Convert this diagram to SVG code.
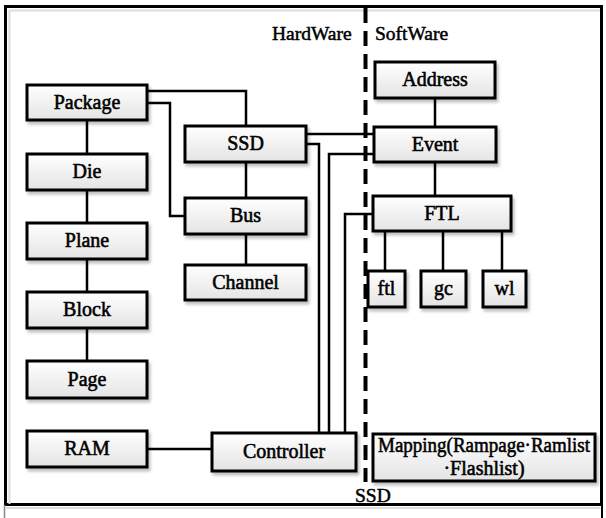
<svg xmlns="http://www.w3.org/2000/svg" width="606" height="518" viewBox="0 0 606 518">
<defs>
<linearGradient id="g" x1="0" y1="0" x2="0" y2="1">
<stop offset="0" stop-color="#ffffff"/>
<stop offset="1" stop-color="#e4e4e4"/>
</linearGradient>
<filter id="sh" x="-10%" y="-10%" width="130%" height="140%">
<feDropShadow dx="2" dy="3" stdDeviation="1.5" flood-color="#000" flood-opacity="0.25"/>
</filter>
</defs>
<style>
.box{fill:url(#g);stroke:#000;stroke-width:3;filter:url(#sh)}
.t{font-family:"Liberation Serif","Times New Roman",serif;font-size:20px;fill:#000;stroke:#000;stroke-width:0.55;text-anchor:middle}
.lbl{font-family:"Liberation Serif","Times New Roman",serif;font-size:19.5px;fill:#000;stroke:#000;stroke-width:0.5}
.c{fill:none;stroke:#000;stroke-width:2.5}
</style>
<rect x="0" y="0" width="606" height="518" fill="#fff"/>
<g id="frame">
<rect x="5.5" y="6.5" width="596" height="498" fill="none" stroke="#000" stroke-width="3"/>
<path d="M9.5 504 V10.5 H600" fill="none" stroke="#ddd" stroke-width="2"/>
<path d="M6 508 H600" stroke="#ddd" stroke-width="2"/>
<path d="M4.5 505 V518" stroke="#888" stroke-width="1.5"/>
<path d="M602 505 V518" stroke="#000" stroke-width="2"/>
</g>
<g id="connectors">
<path class="c" d="M87 120 V154 M87 190 V223 M87 259 V292 M87 328 V361"/>
<path class="c" d="M147 91 H246 V126"/>
<path class="c" d="M147 103 H170 V216 H185"/>
<path class="c" d="M246 162 V198 M246 234 V265"/>
<path class="c" d="M306 134 H374"/>
<path class="c" d="M306 144 H319 V433"/>
<path class="c" d="M374 154 H329 V433"/>
<path class="c" d="M373 214 H345 V433"/>
<path class="c" d="M147 449 H212"/>
<path class="c" d="M435 98 V127 M435 162 V196"/>
<path class="c" d="M385 231 V271 M443 231 V271 M502 231 V271"/>
<path d="M365.5 8 V482" fill="none" stroke="#000" stroke-width="4" stroke-dasharray="15 8"/>
</g>
<g id="hardware-label"><text class="lbl" x="272" y="40">HardWare</text></g>
<g id="software-label"><text class="lbl" x="375" y="40">SoftWare</text></g>
<g id="ssd-label"><text class="lbl" x="355" y="502">SSD</text></g>
<g id="package"><rect class="box" x="27" y="85" width="120" height="35"/><text class="t" x="87" y="109">Package</text></g>
<g id="die"><rect class="box" x="27" y="154" width="120" height="36"/><text class="t" x="87" y="178">Die</text></g>
<g id="plane"><rect class="box" x="27" y="223" width="120" height="36"/><text class="t" x="87" y="247">Plane</text></g>
<g id="block"><rect class="box" x="27" y="292" width="120" height="36"/><text class="t" x="87" y="316">Block</text></g>
<g id="page"><rect class="box" x="27" y="361" width="120" height="37"/><text class="t" x="87" y="386">Page</text></g>
<g id="ram"><rect class="box" x="27" y="431" width="120" height="36"/><text class="t" x="87" y="455">RAM</text></g>
<g id="ssd"><rect class="box" x="185" y="126" width="121" height="36"/><text class="t" x="245.5" y="150">SSD</text></g>
<g id="bus"><rect class="box" x="185" y="198" width="121" height="36"/><text class="t" x="245.5" y="222">Bus</text></g>
<g id="channel"><rect class="box" x="185" y="265" width="121" height="35"/><text class="t" x="245.5" y="289">Channel</text></g>
<g id="controller"><rect class="box" x="212" y="433" width="144" height="38"/><text class="t" x="284" y="458">Controller</text></g>
<g id="address"><rect class="box" x="375" y="62" width="120" height="36"/><text class="t" x="435" y="86">Address</text></g>
<g id="event"><rect class="box" x="374" y="127" width="122" height="35"/><text class="t" x="435" y="151">Event</text></g>
<g id="ftl-main"><rect class="box" x="373" y="196" width="138" height="35"/><text class="t" x="442" y="220">FTL</text></g>
<g id="ftl"><rect class="box" x="368" y="271" width="37" height="36"/><text class="t" x="386.5" y="295">ftl</text></g>
<g id="gc"><rect class="box" x="421" y="271" width="45" height="36"/><text class="t" x="443.5" y="295">gc</text></g>
<g id="wl"><rect class="box" x="483" y="271" width="43" height="36"/><text class="t" x="504.5" y="295">wl</text></g>
<g id="mapping"><rect class="box" x="373" y="434" width="222" height="47"/><text class="t" x="484" y="452" textLength="212" lengthAdjust="spacingAndGlyphs">Mapping(Rampage·Ramlist</text><text class="t" x="484" y="475">·Flashlist)</text></g>
</svg>
